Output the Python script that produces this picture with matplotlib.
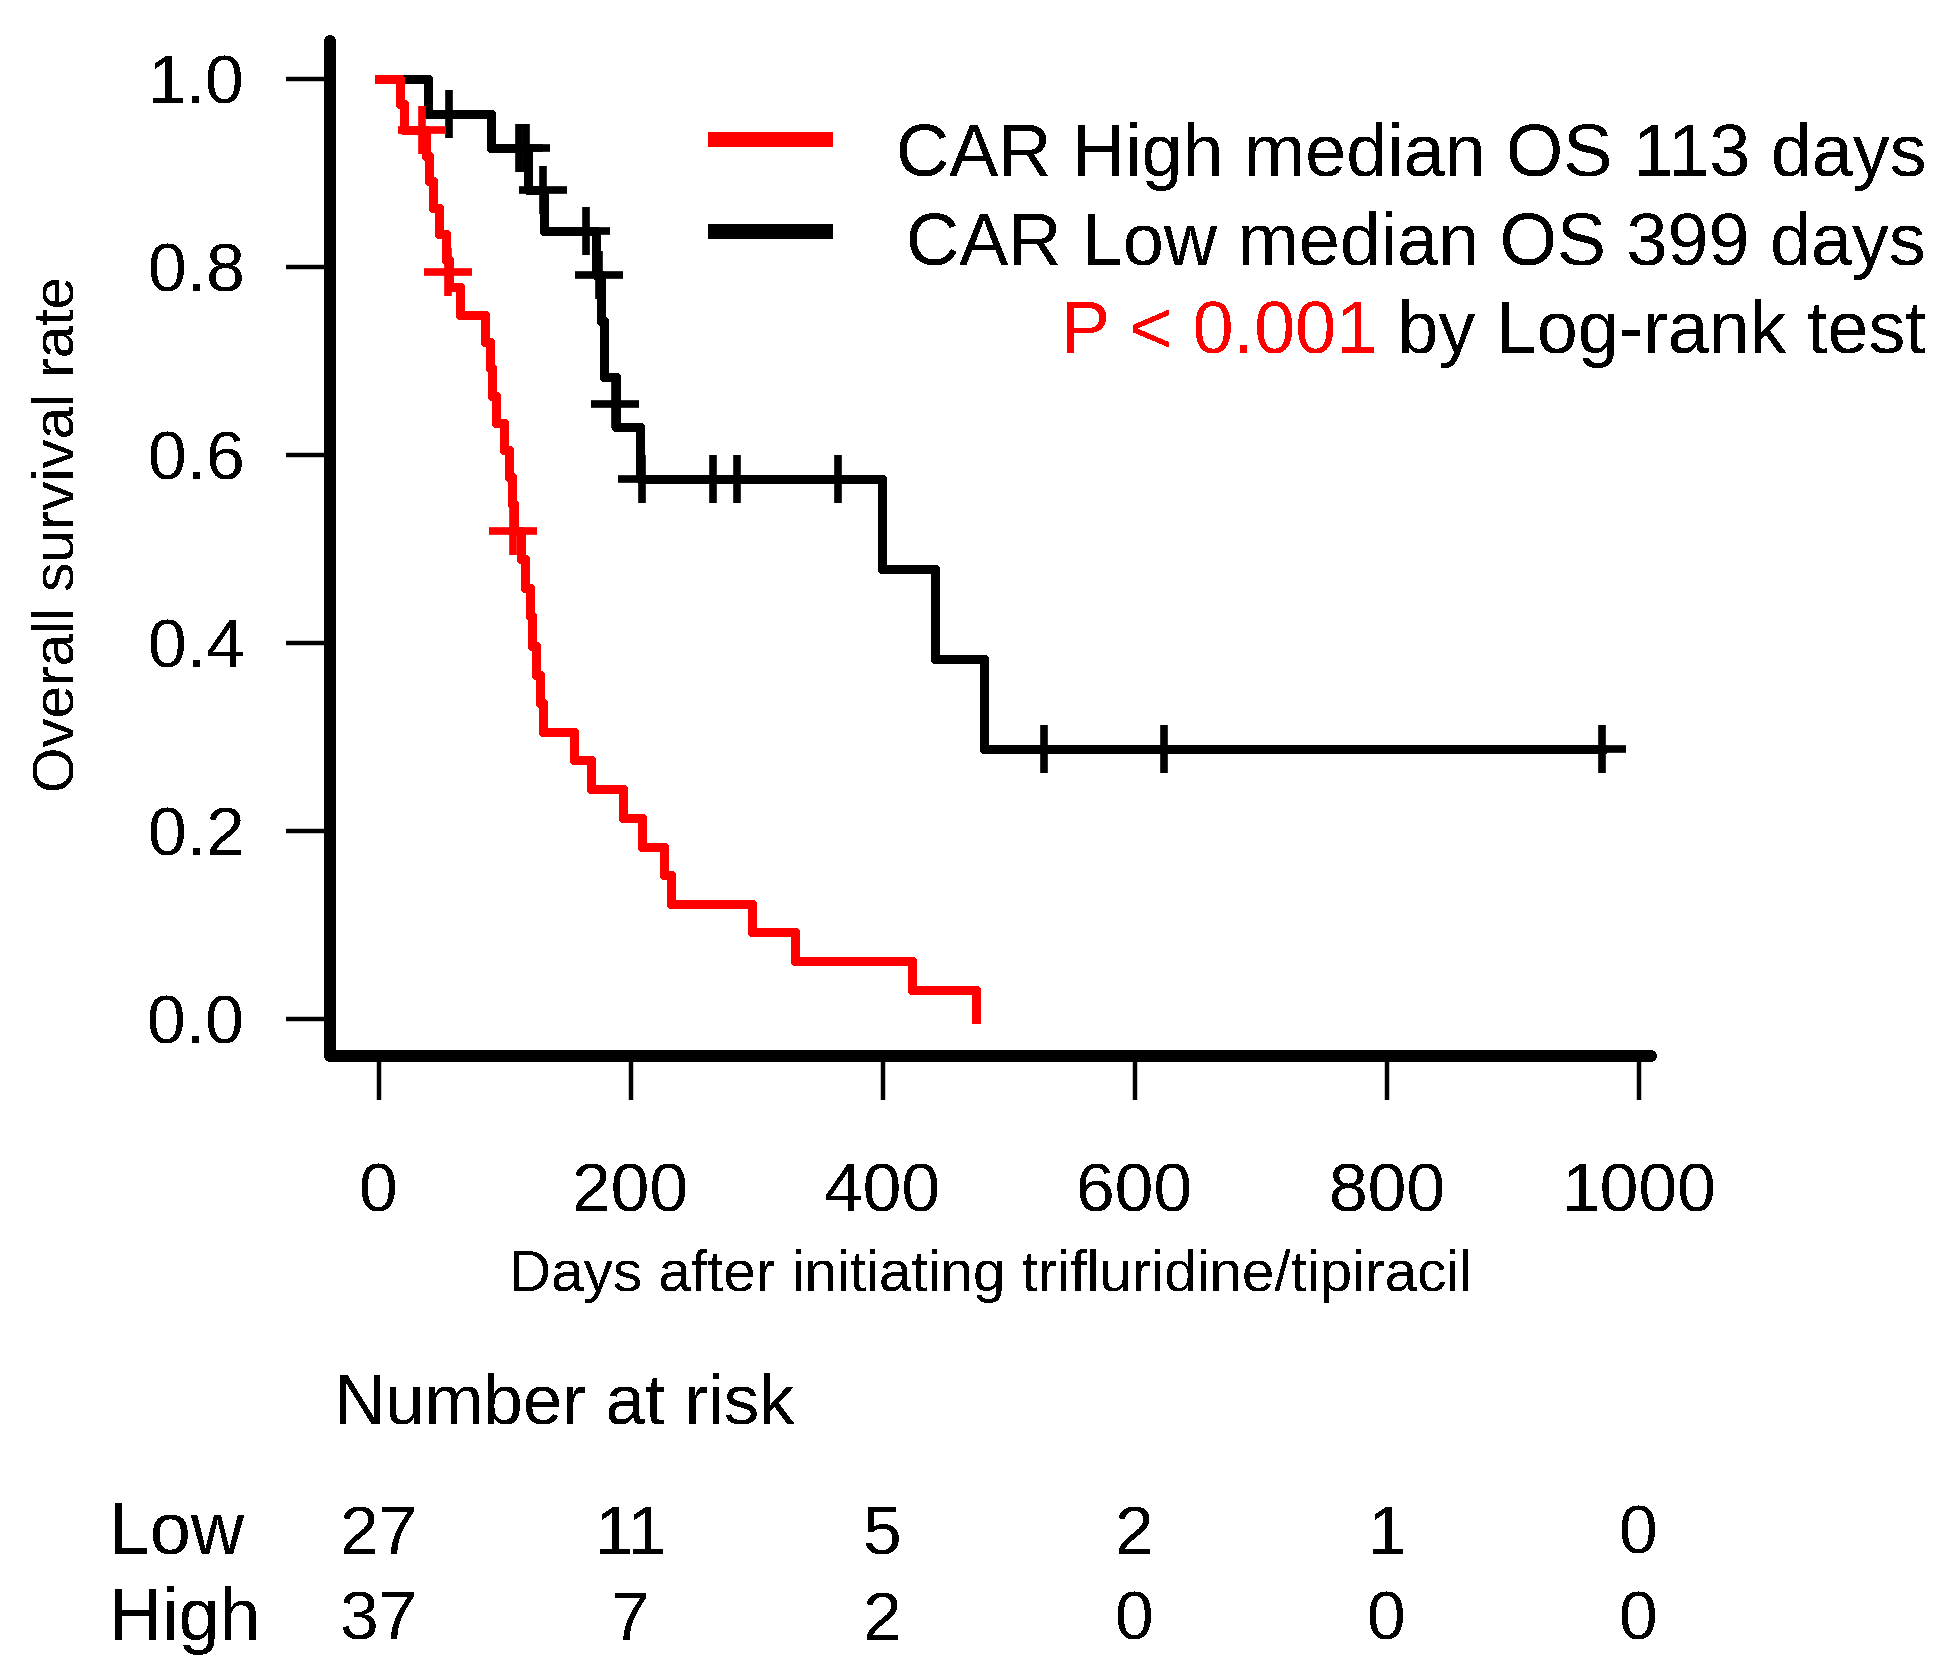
import matplotlib
matplotlib.use('Agg')
import matplotlib.pyplot as plt
import matplotlib.transforms as mtransforms
from matplotlib.lines import Line2D

plt.rcParams['font.family'] = ['Liberation Sans', 'DejaVu Sans']
# the original is a hard-edged bitmap, so switch smoothing off
plt.rcParams['lines.antialiased'] = False
plt.rcParams['text.antialiased'] = False

# Kaplan-Meier steps (days, survival)
low_t = [0, 39, 89, 118, 131, 172, 176, 179, 188, 207, 399, 441, 480, 971]
low_s = [1.0, 0.963, 0.926, 0.882, 0.838, 0.791, 0.742, 0.683, 0.630, 0.574, 0.478, 0.383, 0.287, 0.287]
low_cens_t = [56, 111, 117, 130, 164.5, 174.5, 187, 209, 265, 284, 364, 528, 623, 971]
low_cens_s = [0.963, 0.926, 0.926, 0.882, 0.838, 0.791, 0.654, 0.574, 0.574, 0.574, 0.574, 0.287, 0.287, 0.287]

high_t = [0, 17, 20, 37, 40, 43, 48, 53, 56, 64, 84, 88, 90, 93, 99, 103, 105.5, 107,
          113, 116, 120, 121.5, 125, 128, 130.5, 155, 168, 194, 209, 226, 232, 296, 330, 423, 474]
high_s = [1.0, 0.973, 0.946, 0.918, 0.891, 0.863, 0.835, 0.807, 0.778, 0.749, 0.720, 0.692,
          0.663, 0.634, 0.605, 0.576, 0.548, 0.519, 0.489, 0.458, 0.428, 0.397, 0.366, 0.336,
          0.305, 0.275, 0.244, 0.214, 0.183, 0.153, 0.122, 0.092, 0.061, 0.031, 0.0]
high_cens_t = [34, 55, 106.5]
high_cens_s = [0.946, 0.794, 0.519]

xticks = [0, 200, 400, 600, 800, 1000]
yticks = [0.0, 0.2, 0.4, 0.6, 0.8, 1.0]
risk_low = [27, 11, 5, 2, 1, 0]
risk_high = [37, 7, 2, 0, 0, 0]

W, H = 1950, 1677
def fy(px):
    return 1 - px / H

fig = plt.figure(figsize=(W / 100, H / 100), dpi=100)
ax = fig.add_axes([330 / W, fy(1056.35), 1321.3 / W, 1015.2 / H])

ax.step(low_t, low_s, where='post', color='black', lw=6.3, solid_joinstyle='round')
ax.plot(low_cens_t, low_cens_s, ls='none', marker='+', ms=34, mew=5.5, color='black')
ax.step(high_t, high_s, where='post', color='red', lw=6.3, solid_joinstyle='round')
ax.plot(high_cens_t, high_cens_s, ls='none', marker='+', ms=34, mew=5.5, color='red')

ax.set_xlim(-38.84, 1009.84)
ax.set_ylim(-0.04, 1.04)
ax.set_xticks(xticks)
ax.set_xticklabels([str(v) for v in xticks])
ax.set_yticks(yticks)
ax.set_yticklabels(['%.1f' % v for v in yticks])
ax.tick_params(axis='both', length=31.5, width=3.2, labelsize=50)
ax.tick_params(axis='y', pad=30)
ax.tick_params(axis='x', pad=44)
for s in ['top', 'right']:
    ax.spines[s].set_visible(False)
for s in ['left', 'bottom']:
    ax.spines[s].set_linewidth(7.5)
    ax.spines[s].set_capstyle('round')
    ax.spines[s].set_antialiased(False)

ax.set_xlabel('Days after initiating trifluridine/tipiracil', fontsize=42)
ax.xaxis.set_label_coords(0.5, (1056.35 - 1249) / 1015.2)
ax.set_ylabel('Overall survival rate', fontsize=42)
ax.yaxis.set_label_coords((86 - 330) / 1321.3, (1056.35 - 534) / 1015.2)

# legend drawn by hand
fig.add_artist(Line2D([708 / W, 832 / W], [fy(139)] * 2, color='red', lw=9.5, solid_capstyle='butt'))
fig.add_artist(Line2D([708 / W, 832 / W], [fy(231)] * 2, color='black', lw=9.5, solid_capstyle='butt'))
fig.text(1926 / W, fy(176), 'CAR High median OS 113 days', fontsize=53, ha='right', va='baseline')
fig.text(1926 / W, fy(265), 'CAR Low median OS 399 days', fontsize=53, ha='right', va='baseline')
t3 = fig.text(1926 / W, fy(353), ' by Log-rank test', fontsize=53, ha='right', va='baseline')
ax.annotate('P < 0.001', xy=(0, 0), xycoords=t3, ha='right', va='bottom',
            fontsize=53, color='red', annotation_clip=False)

# number at risk table
tr = mtransforms.blended_transform_factory(ax.transData, fig.transFigure)
fig.text(334 / W, fy(1424), 'Number at risk', fontsize=51, ha='left', va='baseline')
fig.text(109 / W, fy(1554), 'Low', fontsize=53, ha='left', va='baseline')
fig.text(109 / W, fy(1640), 'High', fontsize=53, ha='left', va='baseline')
for x, a, b in zip(xticks, risk_low, risk_high):
    ax.text(x, fy(1554), str(a), fontsize=50, ha='center', va='baseline', transform=tr)
    ax.text(x, fy(1640), str(b), fontsize=50, ha='center', va='baseline', transform=tr)

fig.savefig('out.png', dpi=100)
